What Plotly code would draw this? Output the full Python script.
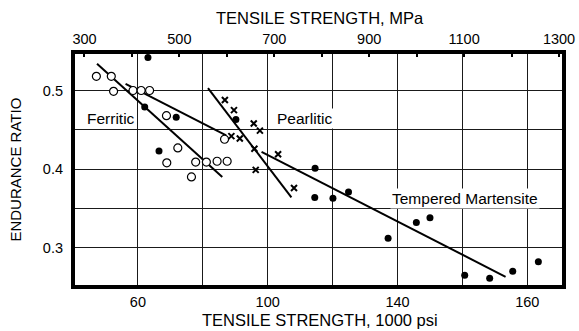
import plotly.graph_objects as go

# ---- data (tensile strength in 1000 psi, endurance ratio) ----
ferritic_ksi = [47.2, 51.8, 52.5, 58.5, 61.0, 63.6, 68.8, 72.3, 68.9, 76.5, 77.8, 81.1, 84.4, 87.5, 86.7]
ferritic_ratio = [0.518, 0.518, 0.499, 0.500, 0.500, 0.500, 0.468, 0.427, 0.408, 0.390, 0.409, 0.409, 0.410, 0.410, 0.438]

pearlitic_ksi = [86.8, 89.6, 95.7, 97.6, 88.8, 91.4, 95.9, 103.2, 96.3, 108.1]
pearlitic_ratio = [0.488, 0.475, 0.458, 0.449, 0.442, 0.439, 0.426, 0.419, 0.399, 0.376]

filled_ksi = [63.1, 62.1, 71.8, 66.5, 90.2, 114.6, 114.5, 120.1, 124.9, 137.1, 145.8, 150.0,
              160.7, 168.4, 175.5, 183.4]
filled_ratio = [0.542, 0.479, 0.466, 0.423, 0.463, 0.401, 0.364, 0.363, 0.371, 0.312, 0.332, 0.338,
                0.265, 0.261, 0.270, 0.282]

# trend lines (end points)
ferritic_line1_ksi = [47.4, 86.0]
ferritic_line1_ratio = [0.534, 0.390]
ferritic_line2_ksi = [56.2, 87.2]
ferritic_line2_ratio = [0.5085, 0.443]
pearlitic_line_ksi = [81.6, 107.3]
pearlitic_line_ratio = [0.503, 0.364]
martensite_line_ksi = [98.1, 173.3]
martensite_line_ratio = [0.422, 0.263]

# axes
bottom_grid = [60, 80, 100, 120, 140, 160, 180]
bottom_text = ["60", "", "100", "", "140", "", "160"]
y_grid = [0.3, 0.35, 0.4, 0.45, 0.5]
y_text = ["0.3", "", "0.4", "", "0.5"]
top_ticks = [300, 500, 700, 900, 1100, 1300]

FONT = "Liberation Sans, Arial, Helvetica, sans-serif"
GRID = "#1a1a1a"

fig = go.Figure()

line_style = dict(color="black", width=2)
for xs, ys in [(ferritic_line1_ksi, ferritic_line1_ratio),
               (ferritic_line2_ksi, ferritic_line2_ratio),
               (pearlitic_line_ksi, pearlitic_line_ratio),
               (martensite_line_ksi, martensite_line_ratio)]:
    fig.add_trace(go.Scatter(x=xs, y=ys, mode="lines", line=line_style,
                             showlegend=False, hoverinfo="skip"))

fig.add_trace(go.Scatter(x=ferritic_ksi, y=ferritic_ratio, mode="markers", name="Ferritic",
                         marker=dict(symbol="circle", size=8, color="white",
                                     line=dict(color="black", width=1.2)),
                         showlegend=False))
fig.add_trace(go.Scatter(x=pearlitic_ksi, y=pearlitic_ratio, mode="markers", name="Pearlitic",
                         marker=dict(symbol="x-thin", size=6,
                                     line=dict(color="black", width=2)),
                         showlegend=False))
fig.add_trace(go.Scatter(x=filled_ksi, y=filled_ratio, mode="markers", name="Tempered Martensite",
                         marker=dict(symbol="circle", size=7, color="black"),
                         showlegend=False))
# invisible trace so the MPa axis is drawn
fig.add_trace(go.Scatter(x=top_ticks, y=[None] * len(top_ticks), xaxis="x2", yaxis="y",
                         mode="markers", showlegend=False, hoverinfo="skip"))

fig.update_layout(
    width=579, height=331,
    margin=dict(l=73, r=15, t=52, b=44, autoexpand=False),
    paper_bgcolor="white", plot_bgcolor="rgba(0,0,0,0)",
    font=dict(family=FONT, color="black", size=14),
    xaxis=dict(range=[40, 191.3], tickvals=bottom_grid, ticktext=bottom_text,
               showgrid=True, gridcolor=GRID, gridwidth=1, zeroline=False,
               ticks="", ticklabelstandoff=4, tickfont=dict(size=14.5),
               showline=False, automargin=False),
    xaxis2=dict(range=[275.8, 1310.5], overlaying="x", anchor="y", side="top",
                tickvals=top_ticks, showgrid=False, zeroline=False,
                ticks="inside", ticklen=5, tickwidth=1.5, tickcolor="black",
                minor=dict(tick0=300, dtick=100, ticks="inside", ticklen=5,
                           tickwidth=1.5, tickcolor="black", showgrid=False),
                ticklabelstandoff=4, tickfont=dict(size=14.5), automargin=False),
    yaxis=dict(range=[0.25, 0.549], tickvals=y_grid, ticktext=y_text,
               showgrid=True, gridcolor=GRID, gridwidth=1, zeroline=False,
               ticks="", ticklabelstandoff=9, tickfont=dict(size=14.5), automargin=False),
    shapes=[dict(type="rect", xref="paper", yref="paper", x0=0, x1=1, y0=0, y1=1,
                 line=dict(color="black", width=4), layer="above")],
    annotations=[
        dict(text="TENSILE STRENGTH, MPa", xref="paper", yref="paper", x=0.503, y=1.145,
             showarrow=False, font=dict(size=16.5), xanchor="center", yanchor="middle"),
        dict(text="TENSILE STRENGTH, 1000 psi", xref="paper", yref="paper", x=0.503, y=-0.14,
             showarrow=False, font=dict(size=16.5), xanchor="center", yanchor="middle"),
        dict(text="ENDURANCE RATIO", xref="paper", yref="paper", x=-0.118, y=0.50,
             showarrow=False, textangle=-90, font=dict(size=15), xanchor="center",
             yanchor="middle"),
        dict(text="Ferritic", x=51.7, y=0.465, xref="x", yref="y", showarrow=False,
             bgcolor="white", borderpad=1, font=dict(size=15.5)),
        dict(text="Pearlitic", x=111.4, y=0.464, xref="x", yref="y", showarrow=False,
             bgcolor="white", borderpad=1, font=dict(size=15.5)),
        dict(text="Tempered Martensite", x=160.7, y=0.363, xref="x", yref="y", showarrow=False,
             bgcolor="white", borderpad=1, font=dict(size=15.5)),
    ],
)

fig.write_html("out.html")
